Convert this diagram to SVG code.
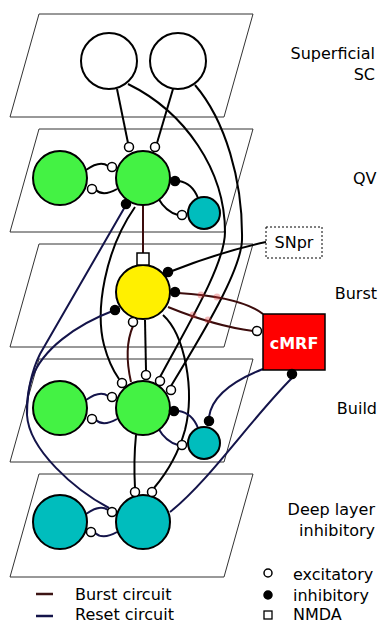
<svg xmlns="http://www.w3.org/2000/svg" width="379" height="624" viewBox="0 0 379 624">
<style>
.plane{fill:none;stroke:#333;stroke-width:1}
.cell{stroke:#000;stroke-width:2}
.w{fill:#fff}.g{fill:#44f244}.c{fill:#00bdbd}.y{fill:#fff000}
.ln{fill:none;stroke:#000;stroke-width:2}
.rs{fill:none;stroke:#14144a;stroke-width:2}
.bu{fill:none;stroke:#3c0c0c;stroke-width:2}
.ex{fill:#fff;stroke:#000;stroke-width:1.5}
.ih{fill:#000;stroke:#000;stroke-width:1.5}
.lbl{font-family:"DejaVu Sans",sans-serif;font-size:16px;fill:#000}
.glow{fill:#e04040;opacity:0.35}
</style>
<g id="planes">
<path class="plane" d="M39,14 L253,14 L224,117 L10,117 Z"/>
<path class="plane" d="M39,129 L253,129 L224,232 L10,232 Z"/>
<path class="plane" d="M39,244 L253,244 L224,347 L10,347 Z"/>
<path class="plane" d="M39,359 L253,359 L224,462 L10,462 Z"/>
<path class="plane" d="M39,474 L253,474 L224,577 L10,577 Z"/>
</g>
<g id="connectors">
<path class="ln" d="M117,89 L128,143"/>
<path class="ln" d="M173,89 L157,143"/>
<path class="ln" d="M128,84 C185,112 225,170 225,232 C225,265 185,330 160,377"/>
<path class="ln" d="M195,85 C225,120 243,180 242,240 C241,270 205,330 171,386"/>
<path class="ln" d="M86,170 Q100,160 108,166"/>
<path class="ln" d="M117,189 Q103,197 96,190"/>
<path class="ln" d="M158,198 Q166,212 178,215"/>
<path class="ln" d="M198,198 Q192,183 179,181"/>
<path class="bu" stroke-width="1.3" d="M143,205 L143,253"/>
<path class="ln" d="M266,242 Q220,252 172,271"/>
<path class="bu" d="M263,314 C245,300 210,295 178,293"/>
<path class="bu" d="M168,307 C200,320 230,328 253,331"/>
<circle class="glow" cx="201" cy="295" r="3.5"/>
<circle class="glow" cx="217" cy="297" r="3.5"/>
<circle class="glow" cx="193" cy="315" r="3.5"/>
<circle class="glow" cx="208" cy="320" r="3.5"/>
<path class="ln" d="M145,320 L146,370"/>
<path class="bu" d="M131,382 C126,360 127,340 133,326"/>
<path class="ln" d="M135,207 C105,250 95,310 104,345 C108,360 114,372 119,379"/>
<path class="rs" d="M126,205 L40,354 C32,370 26,395 27,415 C29,450 75,490 109,508"/>
<path class="rs" d="M115,310 C75,325 42,350 32,378 C27,392 27,405 27,415"/>
<path class="ln" d="M163,315 C185,335 195,390 185,430 C178,455 165,475 154,488"/>
<path class="ln" d="M136,435 C134,455 134,470 135,488"/>
<path class="rs" d="M86,400 Q100,390 108,396"/>
<path class="rs" d="M117,419 Q103,427 96,420"/>
<path class="rs" d="M158,428 Q166,442 178,445"/>
<path class="rs" d="M198,428 Q192,413 179,411"/>
<path class="rs" d="M263,369 C235,380 212,395 209,417"/>
<path class="rs" d="M170,512 C210,480 250,420 292,378"/>
<path class="rs" d="M86,514 Q100,504 108,510"/>
<path class="rs" d="M117,532 Q103,540 95,533"/>
</g>
<g id="sup-left"><circle class="cell w" cx="109" cy="61" r="28"/></g>
<g id="sup-right"><circle class="cell w" cx="178" cy="61" r="28"/></g>
<g id="qv-left"><circle class="cell g" cx="60" cy="178" r="27"/></g>
<g id="qv-mid"><circle class="cell g" cx="143" cy="178" r="27"/></g>
<g id="qv-inh"><circle class="cell c" cx="204" cy="213" r="16"/></g>
<g id="burst"><circle class="cell y" cx="143" cy="292" r="27"/></g>
<g id="build-left"><circle class="cell g" cx="60" cy="408" r="27"/></g>
<g id="build-mid"><circle class="cell g" cx="143" cy="408" r="27"/></g>
<g id="build-inh"><circle class="cell c" cx="204" cy="443" r="16"/></g>
<g id="deep-left"><circle class="cell c" cx="60" cy="522" r="27"/></g>
<g id="deep-mid"><circle class="cell c" cx="143" cy="522" r="27"/></g>
<g id="snpr"><rect x="266" y="227" width="56" height="31" fill="#fff" stroke="#000" stroke-width="1" stroke-dasharray="2,2"/><text class="lbl" x="294" y="248" text-anchor="middle">SNpr</text></g>
<g id="cmrf"><rect x="263" y="314" width="62" height="56" fill="#f00" stroke="#000" stroke-width="1.5"/><text class="lbl" x="294" y="349" text-anchor="middle" style="fill:#fff;font-weight:bold">cMRF</text></g>
<g id="synapses">
<circle class="ex" cx="129" cy="147" r="4.5"/>
<circle class="ex" cx="155" cy="147" r="4.5"/>
<circle class="ex" cx="112" cy="167" r="4.5"/>
<circle class="ex" cx="92" cy="189" r="4.5"/>
<circle class="ex" cx="182" cy="215" r="4.5"/>
<circle class="ih" cx="175" cy="181" r="4.5"/>
<circle class="ih" cx="126" cy="204" r="4.5"/>
<rect x="137" y="253" width="12" height="12" fill="#fff" stroke="#000" stroke-width="1.5"/>
<circle class="ih" cx="168" cy="272" r="4.5"/>
<circle class="ih" cx="175" cy="292" r="4.5"/>
<circle class="ih" cx="115" cy="310" r="4.5"/>
<circle class="ex" cx="133" cy="322" r="4.5"/>
<circle class="ex" cx="257" cy="331" r="4.5"/>
<circle class="ex" cx="122" cy="383" r="4.5"/>
<circle class="ex" cx="146" cy="375" r="4.5"/>
<circle class="ex" cx="160" cy="381" r="4.5"/>
<circle class="ex" cx="171" cy="390" r="4.5"/>
<circle class="ex" cx="112" cy="397" r="4.5"/>
<circle class="ex" cx="92" cy="419" r="4.5"/>
<circle class="ex" cx="182" cy="445" r="4.5"/>
<circle class="ih" cx="174" cy="411" r="4.5"/>
<circle class="ih" cx="209" cy="421" r="4.5"/>
<circle class="ih" cx="292" cy="374" r="4.5"/>
<circle class="ex" cx="135" cy="492" r="4.5"/>
<circle class="ex" cx="152" cy="492" r="4.5"/>
<circle class="ex" cx="112" cy="512" r="4.5"/>
<circle class="ex" cx="91" cy="532" r="4.5"/>
</g>
<g id="labels">
<text class="lbl" x="375" y="59" text-anchor="end">Superficial</text>
<text class="lbl" x="375" y="80" text-anchor="end">SC</text>
<text class="lbl" x="353" y="184">QV</text>
<text class="lbl" x="377" y="299" text-anchor="end">Burst</text>
<text class="lbl" x="377" y="414" text-anchor="end">Build</text>
<text class="lbl" x="375" y="515" text-anchor="end">Deep layer</text>
<text class="lbl" x="375" y="536" text-anchor="end">inhibitory</text>
</g>
<g id="legend">
<circle class="ex" cx="268" cy="573" r="4"/>
<text class="lbl" x="293" y="580">excitatory</text>
<circle class="ih" cx="268" cy="595" r="4"/>
<text class="lbl" x="293" y="601">inhibitory</text>
<rect x="264" y="611" width="8" height="8" fill="#fff" stroke="#000" stroke-width="1.3"/>
<text class="lbl" x="293" y="620">NMDA</text>
<line x1="36" y1="594" x2="53" y2="594" stroke="#3c1414" stroke-width="2.5"/>
<text class="lbl" x="75" y="600">Burst circuit</text>
<line x1="36" y1="616" x2="53" y2="616" stroke="#14144a" stroke-width="2.5"/>
<text class="lbl" x="75" y="620">Reset circuit</text>
</g>
</svg>
